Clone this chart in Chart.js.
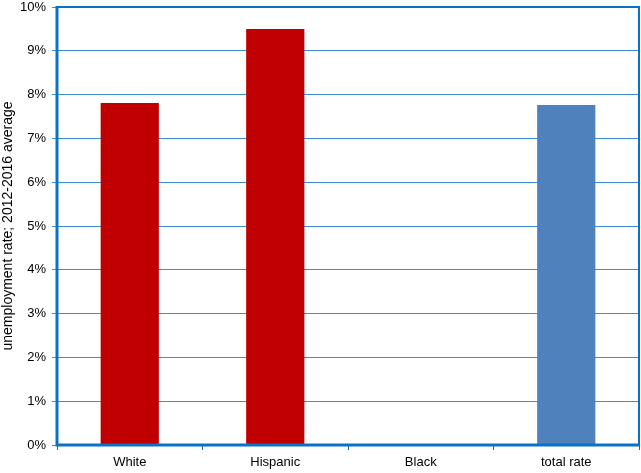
<!DOCTYPE html>
<html>
<head>
<meta charset="utf-8">
<script src="https://cdn.jsdelivr.net/npm/chart.js@4/dist/chart.umd.min.js"></script>
<style>
html,body{margin:0;padding:0;background:#fff;}
#wrap{width:641px;height:473px;position:relative;}
</style>
</head>
<body>
<div id="wrap"><canvas id="c" width="641" height="473"></canvas></div>
<script>
const categories = ["White", "Hispanic", "Black", "total rate"];
const rates = [7.81, 9.50, null, 7.76];
const barColors = ["#C00000", "#C00000", "#C00000", "#4F81BD"];
const yTickValues = [0,1,2,3,4,5,6,7,8,9,10];
const yTitle = "unemployment rate; 2012-2016 average";

const AXIS = "#0A72C4";
const GRID = "#3C8ED3";

const frame = {
  id: 'frame',
  afterDraw(chart) {
    const a = chart.chartArea, ctx = chart.ctx;
    ctx.save();
    ctx.strokeStyle = AXIS;
    ctx.lineWidth = 2;
    ctx.beginPath();
    ctx.moveTo(a.left, a.top); ctx.lineTo(a.right, a.top); ctx.lineTo(a.right, a.bottom);
    ctx.stroke();
    ctx.lineWidth = 3;
    ctx.beginPath();
    ctx.moveTo(a.left, a.top - 1); ctx.lineTo(a.left, a.bottom); ctx.lineTo(a.right + 1, a.bottom);
    ctx.stroke();
    ctx.restore();
  }
};

new Chart(document.getElementById('c'), {
  type: 'bar',
  data: {
    labels: categories,
    datasets: [{
      data: rates,
      backgroundColor: barColors,
      borderWidth: 0,
      categoryPercentage: 1,
      barPercentage: 0.4
    }]
  },
  options: {
    responsive: false,
    animation: false,
    devicePixelRatio: 1,
    layout: { padding: { left: 0, right: 2, top: 7, bottom: 0 } },
    plugins: { legend: { display: false }, tooltip: { enabled: false } },
    scales: {
      x: {
        offset: true,
        grid: { offset: true, drawOnChartArea: false, drawTicks: true, tickLength: 5, color: AXIS, lineWidth: 1 },
        border: { display: false },
        ticks: { color: '#000', font: { family: 'Liberation Sans', size: 13 }, padding: 5, maxRotation: 0 },
        afterFit(s) { s.height = 28; s.paddingLeft = 0; s.paddingRight = 0; }
      },
      y: {
        min: 0, max: 10,
        afterBuildTicks(s) { s.ticks = yTickValues.map(v => ({ value: v })); },
        grid: { color: GRID, lineWidth: 1, drawTicks: true, tickLength: 5 },
        border: { display: false },
        ticks: { color: '#000', font: { family: 'Liberation Sans', size: 13 }, padding: 6, callback: v => v + '%' },
        title: { display: true, text: yTitle, color: '#000', font: { family: 'Liberation Sans', size: 14 }, padding: { top: 0, bottom: 0 } },
        afterFit(s) { s.width = 57; s.paddingTop = 0; s.paddingBottom = 0; }
      }
    }
  },
  plugins: [frame]
});
</script>
</body>
</html>
